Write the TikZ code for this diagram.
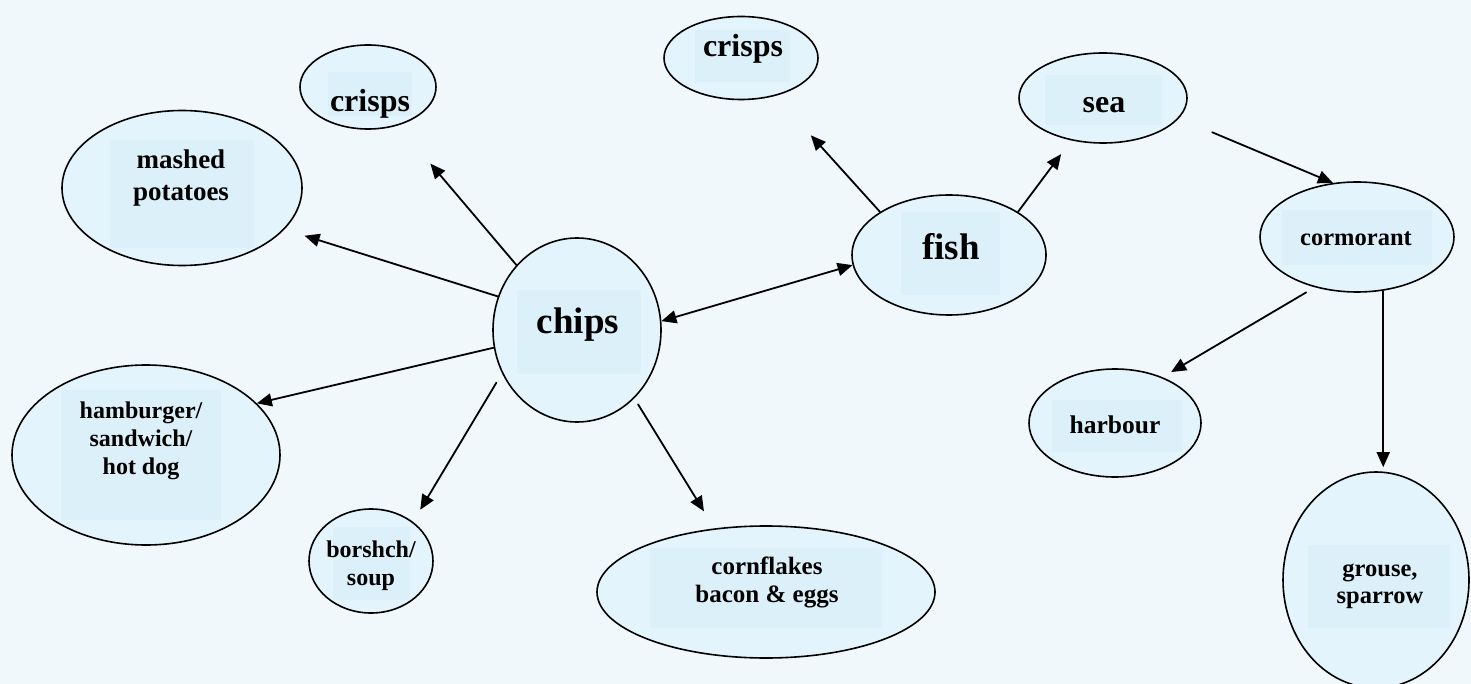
\documentclass[tikz,border=0pt]{standalone}
\usepackage{fontspec}
\setmainfont{Liberation Serif}
\usetikzlibrary{shapes.geometric, arrows.meta}

\definecolor{bgblue}{RGB}{240,248,252}
\definecolor{bubblefill}{RGB}{228,244,252}
\definecolor{boxfill}{RGB}{220,240,250}

\tikzset{
	bubble/.style={ellipse, draw=black, line width=1.6pt, fill=bubblefill, inner sep=0pt},
	word/.style={inner sep=0pt, align=center, font=\bfseries},
	link/.style={-{Triangle[length=15pt, width=13pt]}, line width=1.8pt},
}

\begin{document}
\begin{tikzpicture}[x={(1pt,0pt)}, y={(0pt,-1pt)}, line cap=round, line join=round]
	% Page and background
	\useasboundingbox (0,0) rectangle (1471,684);
	\fill[bgblue] (0,0) rectangle (1471,684);
	
	% Ellipses
	\node[bubble, minimum width=168pt, minimum height=184pt] (chips) at (577,330) {};
	\node[bubble, minimum width=136pt, minimum height=84pt] (crisps1) at (368,87) {};
	\node[bubble, minimum width=240pt, minimum height=155pt] (mashed) at (182,188) {};
	\node[bubble, minimum width=268pt, minimum height=180pt] (burger) at (146,455) {};
	\node[bubble, minimum width=124pt, minimum height=104pt] (borshch) at (371,561) {};
	\node[bubble, minimum width=338pt, minimum height=132pt] (cornflakes) at (766,592) {};
	\node[bubble, minimum width=194pt, minimum height=120pt] (fish) at (949,255) {};
	\node[bubble, minimum width=154pt, minimum height=83pt] (crisps2) at (741,58) {};
	\node[bubble, minimum width=168pt, minimum height=90pt] (sea) at (1103,98) {};
	\node[bubble, minimum width=194pt, minimum height=110pt] (cormorant) at (1357,237) {};
	\node[bubble, minimum width=172pt, minimum height=108pt] (harbour) at (1115,423) {};
	\node[bubble, minimum width=186pt, minimum height=216pt] (grouse) at (1376,580) {};
	
	% Text boxes (kept inside the ellipses)
	\fill[boxfill] (517,290) rectangle (641,374);
	\fill[boxfill] (328,72) rectangle (412,116);
	\fill[boxfill] (110,140) rectangle (254,248);
	\fill[boxfill] (61,390) rectangle (221,520);
	\fill[boxfill] (333,527) rectangle (410,600);
	\fill[boxfill] (650,548) rectangle (882,628);
	\fill[boxfill] (901,212) rectangle (1000,295);
	\fill[boxfill] (695,30) rectangle (790,82);
	\fill[boxfill] (1045,75) rectangle (1162,125);
	\fill[boxfill] (1282,210) rectangle (1432,265);
	\fill[boxfill] (1052,400) rectangle (1182,452);
	\fill[boxfill] (1308,545) rectangle (1450,628);
	
	% Labels
	\node[word, anchor=base, font=\fontsize{37}{40}\selectfont\bfseries] (chipslbl) at (578,334) {chips};
	\node[word, anchor=base, font=\fontsize{32}{36}\selectfont\bfseries] (crisps1lbl) at (370,112) {crisps};
	\node[word, anchor=north, font=\fontsize{27}{32}\selectfont\bfseries] (mashedlbl) at (181,150) {mashed\\potatoes};
	\node[word, anchor=north, font=\fontsize{24}{28}\selectfont\bfseries] (burgerlbl) at (141,402) {hamburger/\\sandwich/\\hot dog};
	\node[word, anchor=north, font=\fontsize{24}{28}\selectfont\bfseries] (borshchlbl) at (371,541) {borshch/\\soup};
	\node[word, anchor=north, font=\fontsize{25}{28}\selectfont\bfseries] (cornflakeslbl) at (767,557) {cornflakes\\bacon \& eggs};
	\node[word, anchor=base, font=\fontsize{37}{40}\selectfont\bfseries] (fishlbl) at (951,260) {fish};
	\node[word, anchor=base, font=\fontsize{32}{36}\selectfont\bfseries] (crisps2lbl) at (743,57) {crisps};
	\node[word, anchor=base, font=\fontsize{32}{36}\selectfont\bfseries] (sealbl) at (1104,113) {sea};
	\node[word, anchor=base, font=\fontsize{24.5}{28}\selectfont\bfseries] (cormorantlbl) at (1356,246) {cormorant};
	\node[word, anchor=base, font=\fontsize{25.5}{28}\selectfont\bfseries] (harbourlbl) at (1115,433) {harbour};
	\node[word, anchor=north, font=\fontsize{24.5}{26.5}\selectfont\bfseries] (grouselbl) at (1380,564) {grouse,\\sparrow};
	
	% Arrows out of chips
	\draw[link, shorten >=50pt] (chips.133) -- (crisps1.-52);
	\draw[link, shorten >=21pt] (chips.157) -- (mashed.-22);
	\draw[link] (chips.192) -- (burger.25);
	\draw[link, shorten <=11pt, shorten >=14pt] (chips.210) -- (borshch.43);
	\draw[link, shorten <=7pt, shorten >=20pt] (chips.-50) -- (cornflakes.129);
	\draw[{Triangle[length=15pt, width=13pt]}-{Triangle[length=15pt, width=13pt]}, line width=1.8pt] (chips.6) -- (fish.186);
	
	% Arrows out of fish
	\draw[link, shorten >=53pt] (fish.148) -- (crisps2);
	\draw[link, shorten >=17pt] (fish.32) -- (sea);
	
	% Bird chain
	\draw[link, shorten <=36pt] (sea.-15) -- (cormorant.114);
	\draw[link, shorten <=10pt, shorten >=10pt] (cormorant.230) -- (harbour.44);
	\draw[link, shorten >=4pt] (cormorant.-64) -- (cormorant.-64 |- grouse.north);
\end{tikzpicture}
\end{document}
